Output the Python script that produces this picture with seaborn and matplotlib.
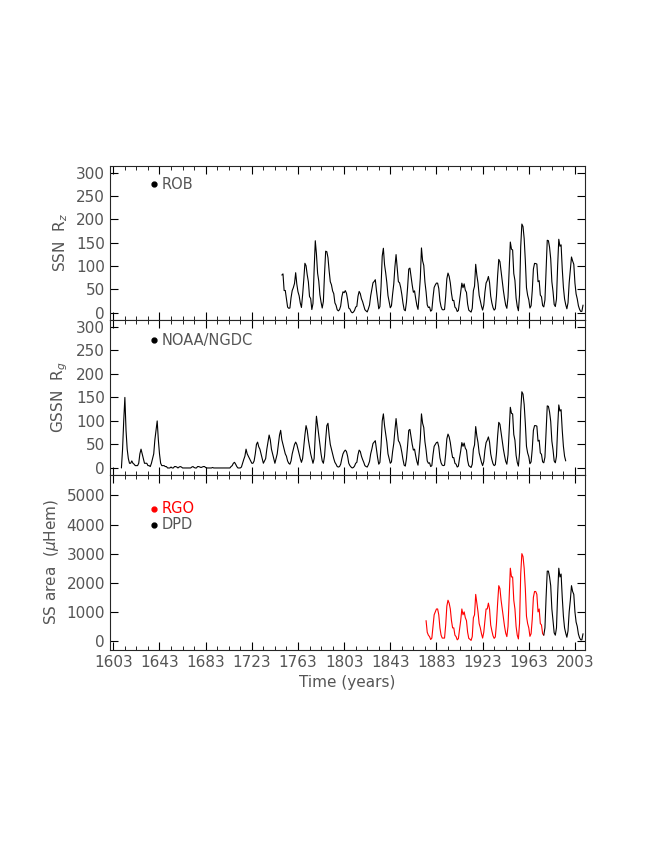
import matplotlib
matplotlib.use("Agg")
import matplotlib.pyplot as plt
import seaborn as sns
import numpy as np
import pandas as pd

# yearly values (monthly noise not reproduced)
rz_years = list(range(1749, 2011))
rz_values = [
    80.9, 83.4, 47.7, 47.8, 30.7, 12.2, 9.6, 10.2, 32.4, 47.6, 54.0,
    62.9, 85.9, 61.2, 45.1, 36.4, 20.9, 11.4, 37.8, 69.8, 106.1,
    100.8, 81.6, 66.5, 34.8, 30.6, 7.0, 19.8, 92.5, 154.4, 125.9,
    84.8, 68.1, 38.5, 22.8, 10.2, 24.1, 82.9, 132.0, 130.9, 118.1,
    89.9, 66.6, 60.0, 46.9, 41.0, 21.3, 16.0, 6.4, 4.1, 6.8,
    14.5, 34.0, 45.0, 43.1, 47.5, 42.2, 28.1, 10.1, 8.1, 2.5,
    0.0, 1.4, 5.0, 12.2, 13.9, 35.4, 45.8, 41.0, 30.1, 23.9,
    15.6, 6.6, 4.0, 1.8, 8.5, 16.6, 36.3, 49.6, 64.2, 67.0,
    70.9, 47.8, 27.5, 8.5, 13.2, 56.9, 121.5, 138.3, 103.2, 85.7,
    64.6, 36.7, 24.2, 10.7, 15.0, 40.1, 61.5, 98.5, 124.7, 96.3,
    66.6, 64.5, 54.1, 39.0, 20.6, 6.7, 4.3, 22.7, 54.8, 93.8,
    95.8, 77.2, 59.1, 44.0, 47.0, 30.5, 16.3, 7.3, 37.6, 74.0,
    139.0, 111.2, 101.6, 66.2, 44.7, 17.0, 11.3, 12.4, 3.4, 6.0,
    32.3, 54.3, 59.7, 63.7, 63.5, 52.2, 25.4, 13.1, 6.8, 6.3,
    7.1, 35.6, 73.0, 85.1, 78.0, 64.0, 41.8, 26.2, 26.7, 12.1,
    9.5, 2.7, 5.0, 24.4, 42.0, 63.5, 53.8, 62.0, 48.5, 43.9,
    18.6, 5.7, 3.6, 1.4, 9.6, 47.4, 57.1, 103.9, 80.6, 63.6,
    37.6, 26.1, 14.2, 5.8, 16.7, 44.3, 63.9, 69.0, 77.8, 64.9,
    35.7, 21.2, 11.1, 5.7, 8.7, 36.1, 79.7, 114.4, 109.6, 88.8,
    67.8, 47.5, 30.6, 16.3, 9.6, 33.2, 92.6, 151.6, 136.3, 134.7,
    83.9, 69.4, 31.5, 13.9, 4.4, 38.0, 141.7, 190.2, 184.8, 159.0,
    112.3, 53.9, 37.6, 27.9, 10.2, 15.1, 47.0, 93.8, 105.9, 105.5,
    104.5, 66.6, 68.9, 38.0, 34.5, 15.5, 12.6, 27.5, 92.5, 155.4,
    154.6, 140.4, 115.9, 66.6, 45.9, 17.9, 13.4, 29.4, 100.2, 157.6,
    142.6, 145.7, 94.3, 54.6, 29.9, 17.5, 8.6, 21.5, 64.3, 93.3,
    119.6, 111.0, 104.0, 63.7, 40.4, 29.8, 15.2, 7.5, 2.9, 3.1,
    16.5,
]

rg_years = list(range(1610, 1996))
rg_values = [
    0, 40, 100, 150, 80, 40, 20, 10, 10, 15,
    10, 8, 5, 5, 5, 10, 30, 40, 30, 20,
    10, 10, 10, 5, 5, 3, 10, 20, 30, 60,
    80, 100, 60, 30, 10, 5, 5, 5, 3, 3,
    0, 0, 0, 2, 0, 0, 3, 3, 2, 0,
    2, 3, 2, 0, 0, 0, 0, 0, 0, 0,
    0, 2, 3, 1, 0, 0, 3, 3, 2, 1,
    2, 3, 3, 1, 0, 0, 0, 0, 0, 1,
    0, 0, 0, 0, 0, 0, 0, 0, 0, 0,
    0, 0, 0, 0, 0, 3, 5, 10, 12, 8,
    3, 0, 0, 0, 2, 10, 18, 25, 40, 30,
    25, 20, 15, 10, 10, 15, 30, 50, 55, 45,
    40, 30, 20, 10, 15, 20, 40, 55, 70, 60,
    40, 30, 20, 10, 20, 30, 50, 70, 80, 60,
    50, 40, 30, 25, 15, 10, 8, 15, 30, 40,
    50, 55, 50, 40, 30, 20, 12, 20, 45, 70,
    90, 80, 60, 45, 30, 20, 10, 20, 70, 110,
    90, 70, 50, 30, 15, 10, 25, 60, 90, 95,
    70, 50, 40, 30, 20, 12, 8, 3, 2, 3,
    8, 20, 30, 35, 38, 35, 25, 10, 5, 2,
    0, 1, 4, 10, 12, 28, 38, 35, 25, 18,
    12, 5, 3, 2, 7, 14, 30, 40, 52, 55,
    58, 40, 22, 8, 12, 48, 100, 115, 90, 72,
    55, 30, 20, 10, 13, 35, 52, 80, 105, 82,
    58, 54, 46, 33, 18, 6, 4, 20, 48, 80,
    82, 66, 50, 38, 40, 26, 14, 6, 32, 62,
    115, 95, 86, 56, 38, 15, 10, 11, 3, 5,
    28, 46, 50, 54, 55, 45, 22, 11, 6, 5,
    6, 30, 62, 72, 66, 54, 36, 22, 22, 10,
    8, 2, 4, 21, 36, 54, 46, 53, 42, 38,
    16, 5, 3, 1, 8, 40, 49, 88, 68, 54,
    32, 22, 12, 5, 14, 38, 54, 59, 66, 55,
    30, 18, 9, 5, 7, 31, 68, 97, 93, 75,
    58, 40, 26, 14, 8, 28, 79, 129, 116, 115,
    71, 59, 27, 12, 4, 32, 120, 162, 157, 135,
    95, 46, 32, 24, 9, 13, 40, 80, 90, 90,
    89, 57, 59, 32, 29, 13, 11, 23, 79, 132,
    131, 119, 99, 57, 39, 15, 11, 25, 85, 134,
    121, 124, 80, 46, 25, 15,
]

rgo_years = list(range(1874, 1977))
rgo_values = [
    700, 300, 200, 150, 50, 100,
    500, 900, 1000, 1100, 1100, 900, 450, 200, 100, 100,
    100, 550, 1200, 1400, 1300, 1100, 700, 450, 450, 200,
    150, 40, 80, 400, 700, 1100, 900, 1000, 800, 700,
    300, 90, 60, 20, 150, 800, 900, 1600, 1300, 1000,
    600, 450, 250, 100, 300, 700, 1100, 1100, 1300, 1100,
    550, 350, 180, 90, 140, 600, 1300, 1900, 1800, 1400,
    1100, 800, 500, 270, 150, 500, 1500, 2500, 2200, 2200,
    1400, 1100, 500, 200, 70, 600, 2300, 3000, 2900, 2500,
    1800, 850, 600, 450, 160, 250, 750, 1500, 1700, 1700,
    1600, 1000, 1100, 600, 550, 250, 200,
]

dpd_years = list(range(1976, 2011))
dpd_values = [
    200, 450, 1500, 2400, 2400, 2200, 1900, 1100, 700, 280, 200,
    450, 1600, 2500, 2200, 2300, 1500, 850, 450, 270, 130,
    350, 1000, 1400, 1900, 1700, 1600, 1000, 650, 500, 240,
    110, 40, 40, 250,
]

sns.set_style("ticks")
plt.rcParams["font.family"] = ["DejaVu Sans"]
grey = "#555555"

fig = plt.figure(figsize=(6.54, 8.46), dpi=100)
left, width = 0.168, 0.727
ax1 = fig.add_axes([left, 0.622, width, 0.182])
ax2 = fig.add_axes([left, 0.4385, width, 0.1835])
ax3 = fig.add_axes([left, 0.232, width, 0.2065])

sns.lineplot(x=rz_years, y=rz_values, ax=ax1, color="black", lw=0.8)
sns.lineplot(x=rg_years, y=rg_values, ax=ax2, color="black", lw=0.8)
sns.lineplot(x=rgo_years, y=rgo_values, ax=ax3, color="red", lw=0.8)
sns.lineplot(x=dpd_years, y=dpd_values, ax=ax3, color="black", lw=0.8)

for ax in (ax1, ax2, ax3):
    ax.set_xlim(1600, 2012)
    ax.set_xticks(range(1603, 2004, 40))
    ax.set_xticks(range(1603, 2012, 10), minor=True)
    ax.tick_params(direction="in", which="both", top=True, right=True,
                   labelsize=11, colors="black", labelcolor=grey)
    ax.tick_params(which="major", length=6)
    ax.tick_params(which="minor", length=3)
    for s in ax.spines.values():
        s.set_linewidth(0.8)

ax1.set_xticklabels([])
ax2.set_xticklabels([])
ax1.set_ylim(-15, 315)
ax2.set_ylim(-15, 315)
ax1.set_yticks(range(0, 301, 50))
ax2.set_yticks(range(0, 301, 50))
ax3.set_ylim(-300, 5700)
ax3.set_yticks(range(0, 5001, 1000))

ax1.set_ylabel("SSN  R$_z$", color=grey, fontsize=11)
ax2.set_ylabel("GSSN  R$_g$", color=grey, fontsize=11)
ax3.set_ylabel("SS area  ($\\mu$Hem)", color=grey, fontsize=11)
ax3.set_xlabel("Time (years)", color=grey, fontsize=11)

ax1.plot([1638], [275], "o", color="black", ms=3.5)
ax1.text(1645, 275, "ROB", color=grey, fontsize=10.5, va="center")
ax2.plot([1638], [272], "o", color="black", ms=3.5)
ax2.text(1645, 272, "NOAA/NGDC", color=grey, fontsize=10.5, va="center")
ax3.plot([1638], [4550], "o", color="red", ms=3.5)
ax3.text(1645, 4550, "RGO", color="red", fontsize=10.5, va="center")
ax3.plot([1638], [4000], "o", color="black", ms=3.5)
ax3.text(1645, 4000, "DPD", color=grey, fontsize=10.5, va="center")

fig.savefig("out.png", dpi=100)
